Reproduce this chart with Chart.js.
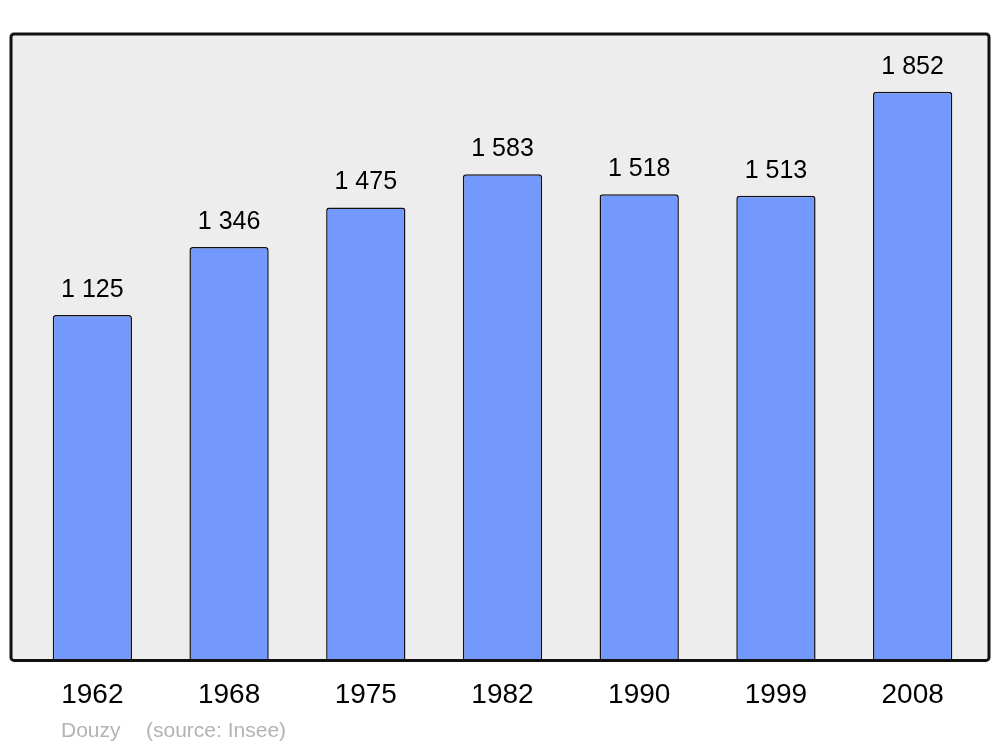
<!DOCTYPE html>
<html>
<head>
<meta charset="utf-8">
<script src="https://cdn.jsdelivr.net/npm/chart.js@4/dist/chart.umd.min.js"></script>
<style>
html,body{margin:0;padding:0;background:#fff;}
#wrap{width:1000px;height:747px;}
</style>
</head>
<body>
<div id="wrap"><canvas id="c" width="1000" height="747"></canvas></div>
<script>
const categories = ["1962","1968","1975","1982","1990","1999","2008"];
const population = [1125,1346,1475,1583,1518,1513,1852];
const valueLabels = ["1 125","1 346","1 475","1 583","1 518","1 513","1 852"];
const footerName = "Douzy";
const footerSource = "(source: Insee)";

const FONT = "'Liberation Sans', Arial, sans-serif";

const boxPlugin = {
  id: 'box',
  beforeDatasetsDraw(chart) {
    const {ctx, chartArea: a} = chart;
    ctx.save();
    ctx.fillStyle = '#ededed';
    ctx.beginPath();
    ctx.roundRect(a.left - 13, a.top, (a.right + 8) - (a.left - 13), a.bottom - a.top, 3);
    ctx.fill();
    ctx.restore();
  },
  afterDatasetsDraw(chart) {
    const {ctx, chartArea: a} = chart;
    ctx.save();
    ctx.strokeStyle = '#111';
    ctx.lineWidth = 3;
    ctx.beginPath();
    ctx.roundRect(a.left - 13, a.top, (a.right + 8) - (a.left - 13), a.bottom - a.top, 3);
    ctx.stroke();
    // value labels
    const meta = chart.getDatasetMeta(0);
    ctx.fillStyle = '#000';
    ctx.font = '25px ' + FONT;
    ctx.textAlign = 'center';
    ctx.textBaseline = 'middle';
    meta.data.forEach((el, i) => {
      ctx.fillText(valueLabels[i], el.x, el.y - 25);
    });
    // footer
    ctx.fillStyle = '#b3b3b3';
    ctx.font = '21px ' + FONT;
    ctx.textAlign = 'left';
    ctx.fillText(footerName, 61, 731);
    ctx.fillText(footerSource, 146, 731);
    ctx.restore();
  }
};

new Chart(document.getElementById('c'), {
  type: 'bar',
  data: {
    labels: categories,
    datasets: [{
      data: population,
      backgroundColor: '#7399ff',
      borderColor: '#111',
      borderWidth: 1.5,
      borderRadius: {topLeft: 3, topRight: 3, bottomLeft: 0, bottomRight: 0},
      borderSkipped: 'bottom',
      barPercentage: 0.58,
      categoryPercentage: 1
    }]
  },
  options: {
    responsive: false,
    animation: false,
    layout: {padding: {left: 24, right: 19, top: 34, bottom: 25}},
    plugins: {legend: {display: false}, tooltip: {enabled: false}, title: {display: false}},
    scales: {
      x: {
        grid: {display: false},
        border: {display: false},
        ticks: {color: '#000', font: {size: 28, family: FONT}, padding: 10, maxRotation: 0}
      },
      y: {
        display: false,
        min: 0,
        max: 2040
      }
    }
  },
  plugins: [boxPlugin]
});
</script>
</body>
</html>
